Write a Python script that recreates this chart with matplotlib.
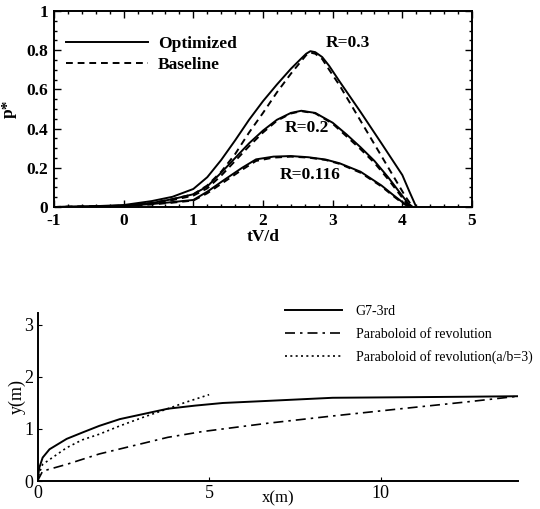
import matplotlib
matplotlib.use('Agg')
import matplotlib.pyplot as plt
from matplotlib.ticker import AutoMinorLocator, MultipleLocator

plt.rcParams['font.family'] = ['Liberation Serif', 'DejaVu Serif']
plt.rcParams['axes.unicode_minus'] = False

# --- top panel: p* vs tV/d ---
x_opt_03 = [-1, -0.5, 0, 0.4, 0.7, 1.0, 1.2, 1.4, 1.6, 1.8, 2.0, 2.2, 2.4, 2.55, 2.62, 2.68, 2.75, 2.85, 2.95, 3.1, 3.4, 3.7, 4.0, 4.1, 4.2]
y_opt_03 = [0.0, 0.003, 0.01, 0.03, 0.052, 0.092, 0.152, 0.24, 0.34, 0.445, 0.54, 0.625, 0.705, 0.758, 0.782, 0.795, 0.79, 0.765, 0.72, 0.64, 0.485, 0.325, 0.163, 0.08, 0.0]
x_base_03 = [-1, -0.5, 0, 0.4, 0.7, 1.0, 1.2, 1.4, 1.6, 1.8, 2.0, 2.2, 2.4, 2.55, 2.62, 2.68, 2.75, 2.85, 2.95, 3.1, 3.4, 3.7, 3.9, 4.05, 4.15]
y_base_03 = [0.0, 0.002, 0.007, 0.02, 0.04, 0.065, 0.11, 0.18, 0.27, 0.38, 0.48, 0.585, 0.68, 0.745, 0.775, 0.788, 0.782, 0.755, 0.70, 0.62, 0.44, 0.26, 0.14, 0.05, 0.0]
x_opt_02 = [-1, -0.5, 0, 0.4, 0.7, 1.0, 1.2, 1.4, 1.6, 1.8, 2.0, 2.2, 2.4, 2.55, 2.75, 3.0, 3.2, 3.4, 3.6, 3.8, 3.95, 4.08, 4.15]
y_opt_02 = [0.0, 0.002, 0.007, 0.02, 0.04, 0.065, 0.105, 0.175, 0.25, 0.325, 0.39, 0.445, 0.48, 0.491, 0.48, 0.43, 0.37, 0.305, 0.235, 0.15, 0.08, 0.02, 0.0]
x_base_02 = [-1, -0.5, 0, 0.4, 0.7, 1.0, 1.2, 1.4, 1.6, 1.8, 2.0, 2.2, 2.4, 2.55, 2.75, 3.0, 3.2, 3.4, 3.6, 3.8, 3.95, 4.06, 4.13]
y_base_02 = [0.0, 0.002, 0.006, 0.018, 0.035, 0.058, 0.095, 0.16, 0.235, 0.31, 0.38, 0.44, 0.477, 0.489, 0.478, 0.425, 0.36, 0.295, 0.225, 0.14, 0.07, 0.02, 0.0]
x_opt_0116 = [-1, -0.5, 0, 0.4, 0.7, 1.0, 1.2, 1.45, 1.7, 1.9, 2.15, 2.4, 2.65, 2.9, 3.1, 3.4, 3.7, 3.87, 4.0, 4.12]
y_opt_0116 = [0.0, 0.002, 0.006, 0.015, 0.025, 0.036, 0.078, 0.14, 0.2, 0.243, 0.257, 0.26, 0.254, 0.242, 0.223, 0.18, 0.11, 0.061, 0.025, 0.0]
x_base_0116 = [-1, -0.5, 0, 0.4, 0.7, 1.0, 1.2, 1.45, 1.7, 1.9, 2.15, 2.4, 2.65, 2.9, 3.1, 3.4, 3.7, 3.87, 4.0, 4.1]
y_base_0116 = [0.0, 0.002, 0.005, 0.013, 0.022, 0.033, 0.07, 0.13, 0.19, 0.235, 0.252, 0.257, 0.252, 0.24, 0.22, 0.175, 0.105, 0.056, 0.02, 0.0]

r_labels = ['R=0.3', 'R=0.2', 'R=0.116']
r_label_x = [3.22, 2.63, 2.67]
r_label_y = [0.835, 0.405, 0.163]

# --- bottom panel: body profiles ---
x_g7 = [0, 0.05, 0.15, 0.35, 0.85, 1.3, 1.8, 2.4, 3.1, 3.8, 4.6, 5.4, 6.7, 8.6, 10.6, 12.5, 14.0]
y_g7 = [0, 0.25, 0.45, 0.61, 0.81, 0.93, 1.06, 1.19, 1.29, 1.39, 1.45, 1.50, 1.54, 1.60, 1.61, 1.62, 1.63]
x_parab = [0, 0.15, 0.85, 1.8, 2.8, 3.8, 4.8, 6.7, 8.6, 10.6, 12.5, 14.0]
y_parab = [0, 0.19, 0.32, 0.52, 0.68, 0.84, 0.95, 1.11, 1.25, 1.39, 1.52, 1.63]
x_parab3 = [0, 0.05, 0.15, 0.85, 1.3, 1.8, 2.4, 3.1, 3.8, 4.3, 5.0]
y_parab3 = [0, 0.15, 0.32, 0.64, 0.79, 0.90, 1.06, 1.23, 1.39, 1.51, 1.66]

fig = plt.figure(figsize=(5.4, 5.09), dpi=100)

ax1 = fig.add_axes([54 / 540, 1 - 207 / 509, 418 / 540, 196 / 509])
lw = 1.4
dash = (0, (3.5, 2.5))
ax1.plot(x_opt_03, y_opt_03, color='black', lw=lw, label='Optimized')
ax1.plot(x_base_03, y_base_03, color='black', lw=lw, ls=dash, label='Baseline')
ax1.plot(x_opt_02, y_opt_02, color='black', lw=lw)
ax1.plot(x_base_02, y_base_02, color='black', lw=lw, ls=dash)
ax1.plot(x_opt_0116, y_opt_0116, color='black', lw=lw)
ax1.plot(x_base_0116, y_base_0116, color='black', lw=lw, ls=dash)

for txt, tx, ty in zip(r_labels, r_label_x, r_label_y):
    ax1.text(tx, ty, txt, ha='center', va='center', fontsize=12.5, fontweight='bold')

ax1.set_xlim(-1, 5)
ax1.set_ylim(0, 1)
ax1.xaxis.set_major_locator(MultipleLocator(1))
ax1.xaxis.set_minor_locator(AutoMinorLocator(5))
ax1.set_yticks([0, 0.2, 0.4, 0.6, 0.8, 1.0])
ax1.set_yticklabels(['0', '0.2', '0.4', '0.6', '0.8', '1'])
ax1.yaxis.set_minor_locator(AutoMinorLocator(4))
ax1.tick_params(which='both', direction='in', top=True, right=True, width=1.0)
ax1.tick_params(which='major', length=5, labelsize=12.5, pad=4)
ax1.tick_params(which='minor', length=2.5)
for lab in ax1.get_xticklabels() + ax1.get_yticklabels():
    lab.set_fontweight('bold')
for sp in ax1.spines.values():
    sp.set_linewidth(1.4)
ax1.set_xlabel('tV/d', fontsize=12.5, fontweight='bold')
ax1.xaxis.set_label_coords(0.5, -0.112)
ax1.set_ylabel('p*', fontsize=12.5, fontweight='bold')
ax1.yaxis.set_label_coords(-0.088, 0.5)

ax1.legend(loc='upper left', bbox_to_anchor=(66 / 540, 1 - 36 / 509),
           bbox_transform=fig.transFigure, frameon=False,
           prop={'weight': 'bold', 'size': 12.5}, handlelength=4.7,
           handletextpad=0.6, labelspacing=0.25, borderpad=0, borderaxespad=0)

ax2 = fig.add_axes([37.5 / 540, 1 - 481 / 509, (518 - 37.5) / 540, (481 - 313) / 509])
ax2.plot(x_g7, y_g7, color='black', lw=lw, label='G7-3rd')
ax2.plot(x_parab, y_parab, color='black', lw=1.2, ls=(0, (6, 3, 1.5, 3)),
         label='Paraboloid of revolution')
ax2.plot(x_parab3, y_parab3, color='black', lw=1.2, ls=(0, (1.2, 2)),
         label='Paraboloid of revolution(a/b=3)')
ax2.set_xlim(0, 14)
ax2.set_ylim(0, 3.23)
ax2.set_xticks([0, 5, 10])
ax2.set_yticks([0, 1, 2, 3])
ax2.spines['top'].set_visible(False)
ax2.spines['right'].set_visible(False)
for sp in ax2.spines.values():
    sp.set_linewidth(1.4)
ax2.tick_params(direction='in', length=3, labelsize=13, pad=3)
ax2.set_xlabel('x(m)', fontsize=12)
ax2.xaxis.set_label_coords(0.5, -0.055)
ax2.set_ylabel('y(m)', fontsize=13)
ax2.yaxis.set_label_coords(-0.024, 0.5)

ax2.legend(loc='upper left', bbox_to_anchor=(285 / 540, 1 - 305 / 509),
           bbox_transform=fig.transFigure, frameon=False, fontsize=10,
           handlelength=4.1, handletextpad=1.0, labelspacing=0.7,
           borderpad=0, borderaxespad=0)

fig.savefig('out.png', dpi=100)
